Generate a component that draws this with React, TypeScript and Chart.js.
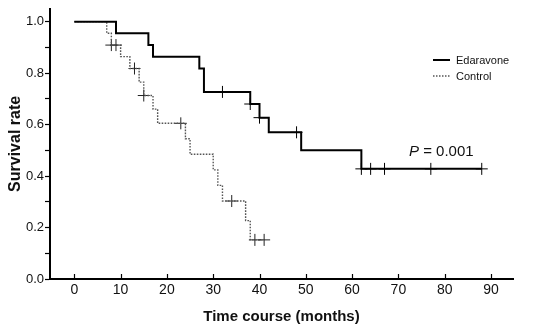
import React, { useEffect, useRef } from "react";
import { Chart, registerables } from "chart.js";

Chart.register(...registerables);

// Kaplan–Meier step data (time in months, survival after the event)
const edaravoneTimes = [0, 9, 16, 17, 27, 28, 38, 40, 42, 49, 62, 88];
const edaravoneSurvival = [1.0, 0.955, 0.909, 0.864, 0.818, 0.727, 0.68, 0.627, 0.57, 0.5, 0.428, 0.428];
const edaravoneCensored = [32, 38, 40, 48, 62, 64, 67, 77, 88];

const controlTimes = [0, 7, 8, 10, 12, 14, 15, 17, 18, 24, 25, 30, 31, 32, 37, 38, 41];
const controlSurvival = [1.0, 0.955, 0.909, 0.864, 0.818, 0.765, 0.713, 0.66, 0.605, 0.545, 0.485, 0.424, 0.364, 0.303, 0.227, 0.152, 0.152];
const controlCensored = [8, 9, 13, 15, 23, 34, 39, 41];

const xTickValues = [0, 10, 20, 30, 40, 50, 60, 70, 80, 90];
const yTickValues = [0, 0.1, 0.2, 0.3, 0.4, 0.5, 0.6, 0.7, 0.8, 0.9, 1.0];
const yLabelValues = [0, 0.2, 0.4, 0.6, 0.8, 1.0];

const seriesNames = ["Edaravone", "Control"];
const pValueText = "0.001";

const FONT = "'Liberation Sans', Arial, Helvetica, sans-serif";

function survivalAt(times: number[], surv: number[], t: number): number {
  let v = surv[0];
  for (let i = 0; i < times.length; i++) {
    if (times[i] <= t) v = surv[i];
  }
  return v;
}

const annotationsPlugin = {
  id: "kmAnnotations",
  afterDraw(chart: any) {
    const ctx = chart.ctx as CanvasRenderingContext2D;
    const xs = chart.scales.x;
    const ys = chart.scales.y;
    ctx.save();
    // inward x ticks
    ctx.strokeStyle = "#000";
    ctx.lineWidth = 1.2;
    const base = ys.getPixelForValue(0);
    for (const v of xTickValues) {
      const px = Math.round(xs.getPixelForValue(v)) + 0.5;
      ctx.beginPath();
      ctx.moveTo(px, base);
      ctx.lineTo(px, base - 5);
      ctx.stroke();
    }
    // legend
    ctx.font = `11px ${FONT}`;
    ctx.textBaseline = "middle";
    ctx.fillStyle = "#111";
    ctx.lineWidth = 2;
    ctx.strokeStyle = "#000";
    ctx.beginPath();
    ctx.moveTo(433, 60);
    ctx.lineTo(450, 60);
    ctx.stroke();
    ctx.fillText(seriesNames[0], 456, 60.5);
    ctx.lineWidth = 1.3;
    ctx.strokeStyle = "#555";
    ctx.setLineDash([1.5, 1.5]);
    ctx.beginPath();
    ctx.moveTo(433, 76);
    ctx.lineTo(450, 76);
    ctx.stroke();
    ctx.setLineDash([]);
    ctx.fillText(seriesNames[1], 456, 76.5);
    // P value
    ctx.textBaseline = "alphabetic";
    ctx.font = `italic 15px ${FONT}`;
    ctx.fillStyle = "#111";
    const px0 = 409;
    ctx.fillText("P", px0, 156);
    const w = ctx.measureText("P").width;
    ctx.font = `15px ${FONT}`;
    ctx.fillText(" = " + pValueText, px0 + w, 156);
    ctx.restore();
  },
};

export default function App() {
  const canvasRef = useRef<HTMLCanvasElement | null>(null);

  useEffect(() => {
    if (!canvasRef.current) return;
    const edaLine = edaravoneTimes.map((t, i) => ({ x: t, y: edaravoneSurvival[i] }));
    const ctrlLine = controlTimes.map((t, i) => ({ x: t, y: controlSurvival[i] }));
    const edaCens = edaravoneCensored.map((t) => ({ x: t, y: survivalAt(edaravoneTimes, edaravoneSurvival, t) }));
    const ctrlCens = controlCensored.map((t) => ({ x: t, y: survivalAt(controlTimes, controlSurvival, t) }));

    const chart = new Chart(canvasRef.current, {
      type: "scatter",
      data: {
        datasets: [
          {
            label: seriesNames[0],
            data: edaLine,
            showLine: true,
            stepped: true,
            borderColor: "#000",
            borderWidth: 2,
            pointRadius: 0,
            fill: false,
          } as any,
          {
            label: seriesNames[1],
            data: ctrlLine,
            showLine: true,
            stepped: true,
            borderColor: "#555",
            borderWidth: 1.4,
            borderDash: [1.6, 1.4],
            pointRadius: 0,
            fill: false,
          } as any,
          {
            label: seriesNames[0] + " censored",
            data: edaCens,
            showLine: false,
            pointStyle: "cross",
            pointRadius: 6,
            borderColor: "#000",
            borderWidth: 1,
          } as any,
          {
            label: seriesNames[1] + " censored",
            data: ctrlCens,
            showLine: false,
            pointStyle: "cross",
            pointRadius: 6,
            borderColor: "#222",
            borderWidth: 1,
          } as any,
        ],
      },
      options: {
        animation: false,
        responsive: false,
        layout: { padding: { top: 8, right: 37, left: 0, bottom: 0 } },
        plugins: {
          legend: { display: false },
          tooltip: { enabled: false },
        },
        scales: {
          x: {
            type: "linear",
            min: -5.25,
            max: 94.75,
            afterBuildTicks: (scale: any) => {
              scale.ticks = xTickValues.map((v) => ({ value: v }));
            },
            afterFit: (scale: any) => {
              scale.height = 53;
            },
            grid: { display: true, drawOnChartArea: false, drawTicks: false },
            border: { display: true, color: "#000", width: 2 },
            ticks: {
              padding: 3,
              color: "#111",
              font: { family: FONT, size: 14 },
              maxRotation: 0,
              autoSkip: false,
            },
            title: {
              display: true,
              text: "Time course (months)",
              color: "#111",
              font: { family: FONT, size: 15, weight: "bold" },
              padding: { top: 6, bottom: 6 },
            },
          },
          y: {
            type: "linear",
            min: 0,
            max: 1.05,
            afterBuildTicks: (scale: any) => {
              scale.ticks = yTickValues.map((v) => ({ value: v }));
            },
            afterFit: (scale: any) => {
              scale.width = 50;
            },
            grid: {
              display: true,
              drawOnChartArea: false,
              drawTicks: true,
              tickLength: 5,
              tickColor: "#000",
              tickWidth: 1.2,
            },
            border: { display: true, color: "#000", width: 2 },
            ticks: {
              padding: 1,
              color: "#111",
              autoSkip: false,
              font: { family: FONT, size: 13 },
              callback: (value: any) => {
                const v = Number(value);
                return yLabelValues.some((l) => Math.abs(l - v) < 1e-6) ? v.toFixed(1) : "";
              },
            },
            title: {
              display: true,
              text: "Survival rate",
              color: "#111",
              font: { family: FONT, size: 16, weight: "bold" },
              padding: { top: 6, bottom: 6 },
            },
          },
        },
      } as any,
      plugins: [annotationsPlugin],
    });
    return () => chart.destroy();
  }, []);

  return (
    <div style={{ position: "absolute", left: 0, top: 0, width: 550, height: 332, background: "#fff" }}>
      <canvas ref={canvasRef} width={550} height={332} style={{ display: "block" }} />
    </div>
  );
}
